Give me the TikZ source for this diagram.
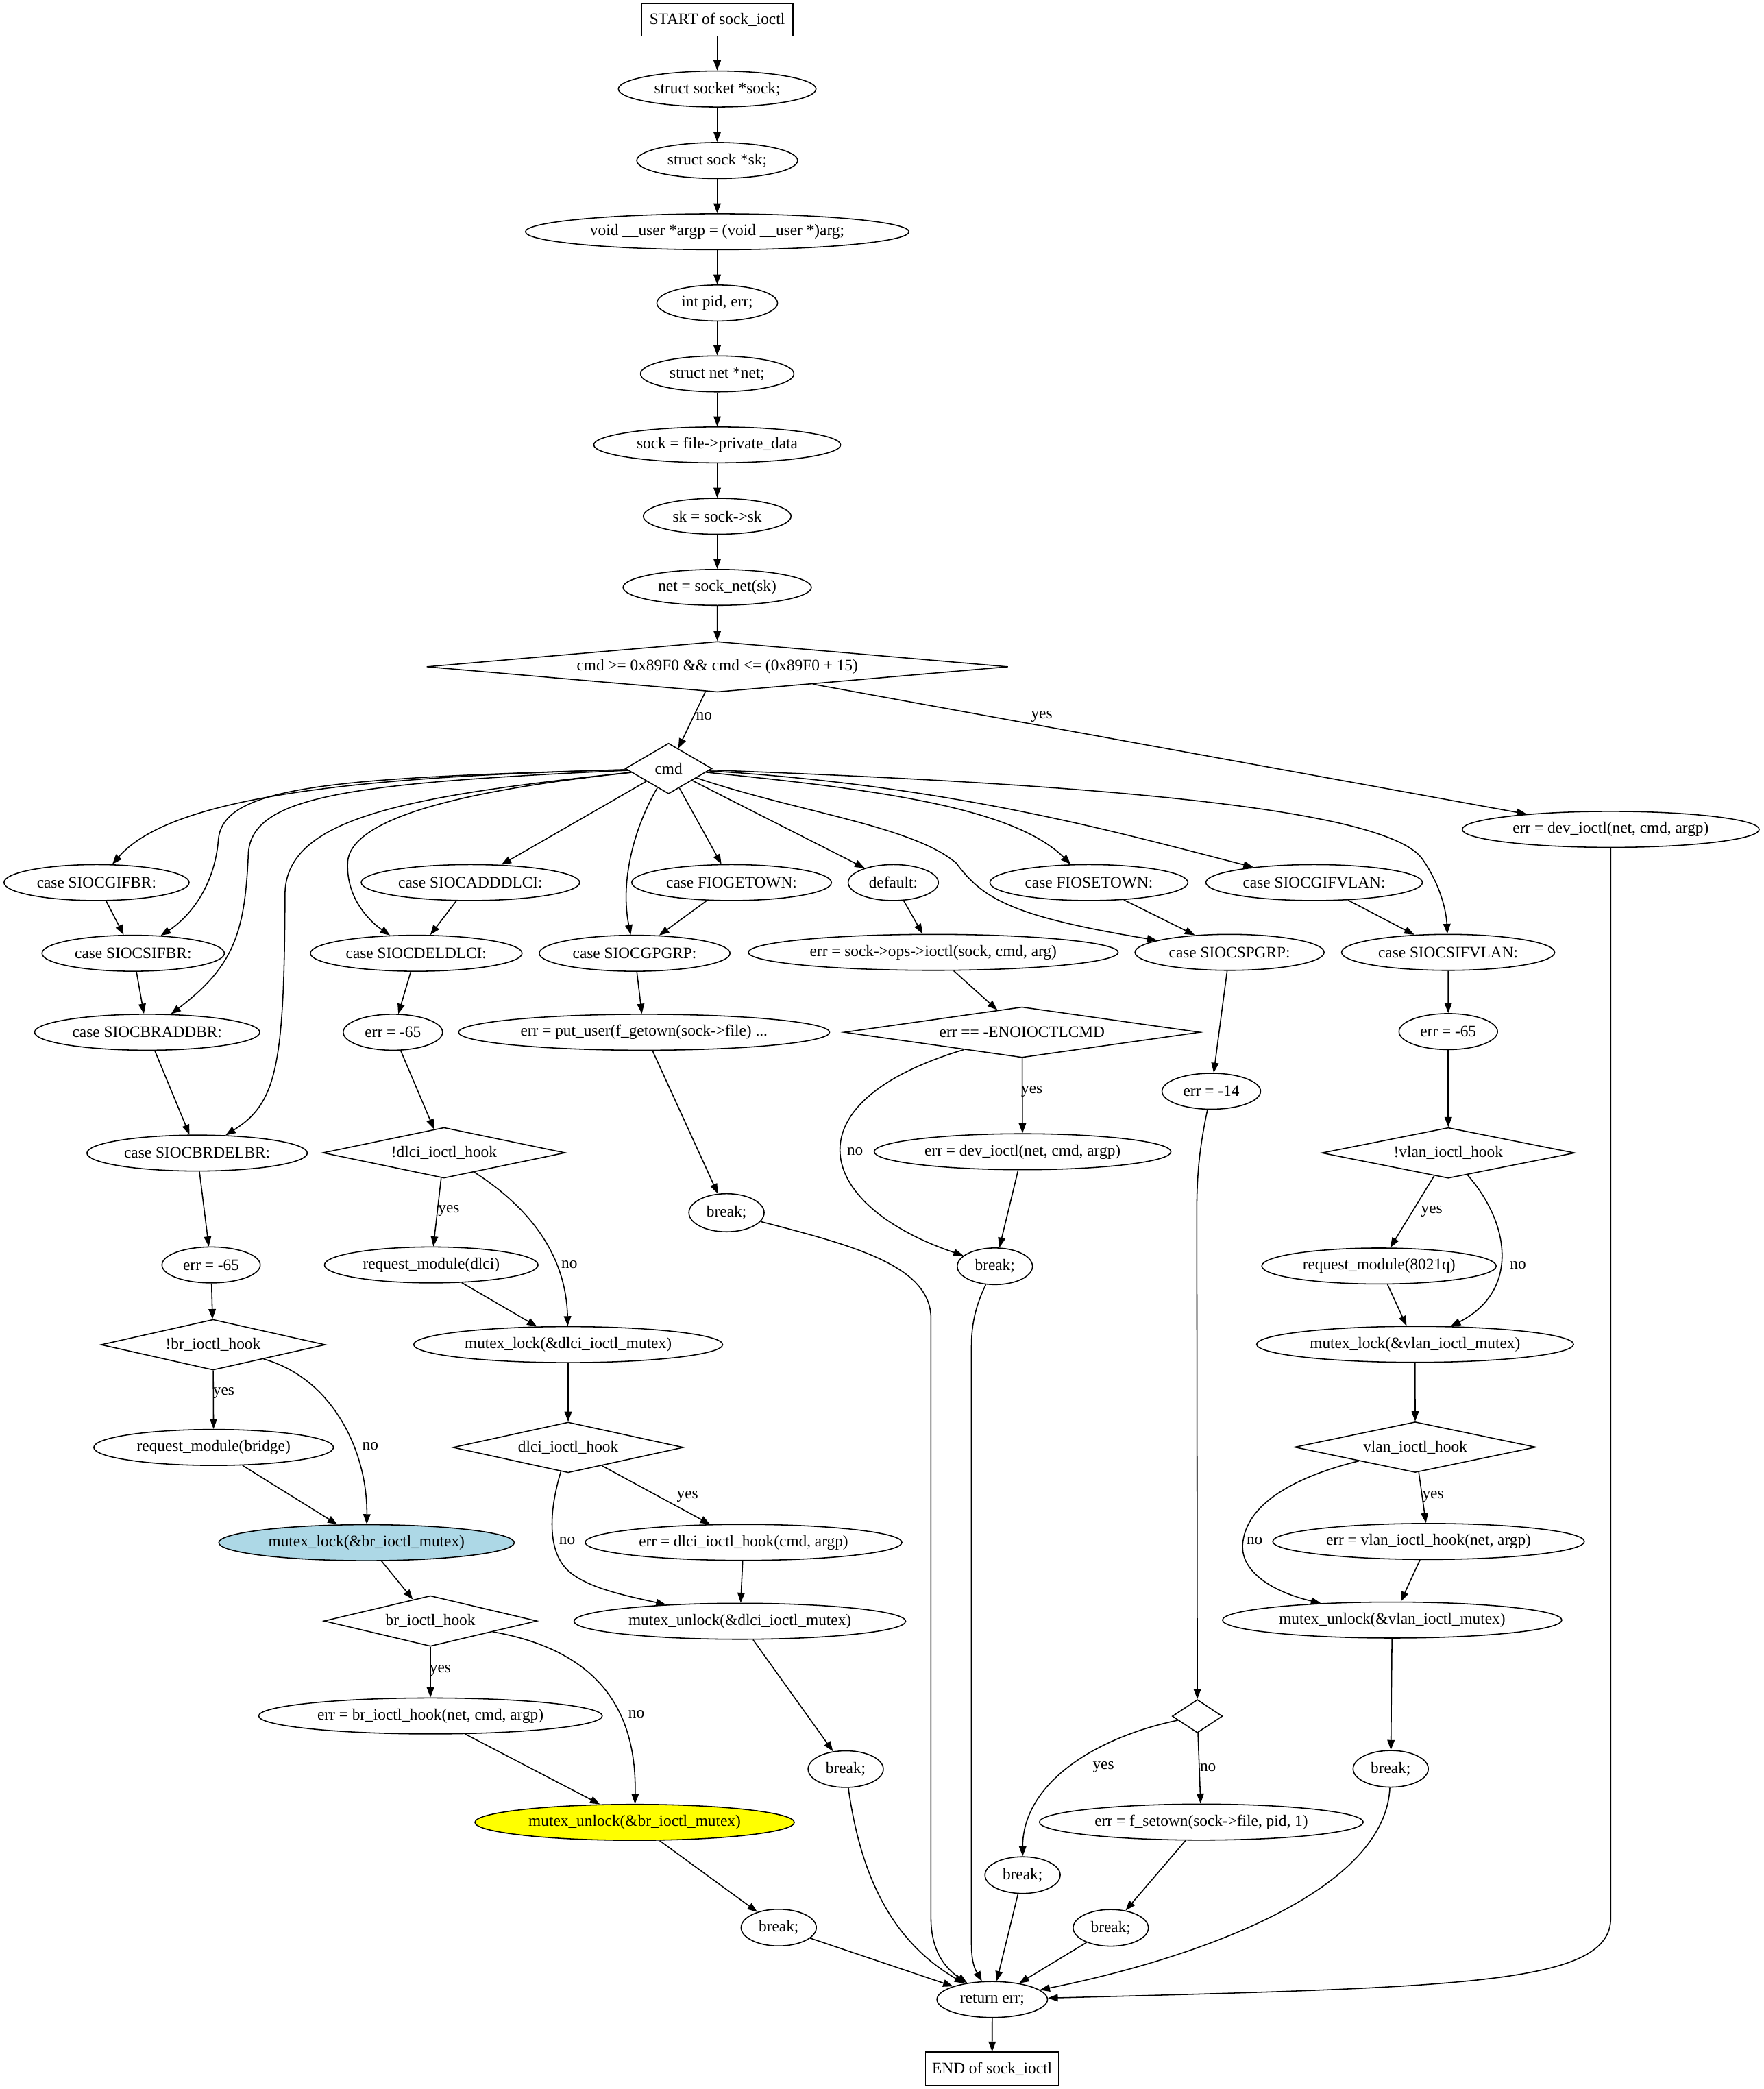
\documentclass[tikz,border=0pt]{standalone}
\usepackage{fontspec}
\setmainfont{Liberation Serif}
\usetikzlibrary{shapes.geometric,arrows.meta}
\newcommand\gvfont{\fontsize{12}{14}\selectfont}
\definecolor{gvblue}{HTML}{ADD8E6}
\definecolor{gvyellow}{HTML}{FFFF00}
\begin{document}
\begin{tikzpicture}[x=1pt,y=-1pt,
  every node/.style={font=\gvfont},
  base/.style={draw, line width=0.8pt, inner sep=0pt},
  ell/.style={base, ellipse, minimum height=27pt},
  brk/.style={ell, minimum width=56.5pt, minimum height=27.5pt},
  dia/.style={base, diamond, minimum height=38pt},
  bx/.style={base, rectangle},
  lbl/.style={inner sep=0pt},
  arr/.style={line width=0.8pt, -{Triangle[length=7.5pt,width=5.5pt]}},
]
\fill[white] (0,0) rectangle (1324,1568.4);
\useasboundingbox (0,0) rectangle (1324,1568.4);

% top chain
\node[bx, minimum width=113.6pt, minimum height=24.2pt] (start) at (538.5,15) {START of sock\_ioctl};
\node[ell, minimum width=148.4pt] (n1) at (538.5,66.8) {struct socket *sock;};
\node[ell, minimum width=120.8pt] (n2) at (538.5,120.5) {struct sock *sk;};
\node[ell, minimum width=288pt] (n3) at (538.5,174) {void \_\_user *argp = (void \_\_user *)arg;};
\node[ell, minimum width=90.6pt] (n4) at (538.5,227.5) {int pid, err;};
\node[ell, minimum width=115.2pt] (n5) at (538.5,280.7) {struct net *net;};
\node[ell, minimum width=185.4pt] (n6) at (538.5,334) {sock = file->private\_data};
\node[ell, minimum width=110.9pt] (n7) at (538.5,387.6) {sk = sock->sk};
\node[ell, minimum width=141.4pt] (n8) at (538.5,441) {net = sock\_net(sk)};
\node[dia, minimum width=436.8pt, aspect=11.49] (d1) at (538.6,500.6) {cmd >= 0x89F0 \&\& cmd <= (0x89F0 + 15)};
\node[dia, minimum width=65pt, aspect=1.71] (cmd) at (502,577) {cmd};
\node[ell, minimum width=223pt] (devA) at (1209.4,622.7) {err = dev\_ioctl(net, cmd, argp)};

% row 1
\node[ell, minimum width=139pt] (cGIFBR) at (72.5,662.6) {case SIOCGIFBR:};
\node[ell, minimum width=164pt] (cADDDLCI) at (353.2,662.6) {case SIOCADDDLCI:};
\node[ell, minimum width=150pt] (cFIOGET) at (549.3,662.6) {case FIOGETOWN:};
\node[ell, minimum width=67.7pt] (cdefault) at (670.7,662.6) {default:};
\node[ell, minimum width=148.7pt] (cFIOSET) at (817.6,662.6) {case FIOSETOWN:};
\node[ell, minimum width=162.6pt] (cGIFVLAN) at (986.7,662.6) {case SIOCGIFVLAN:};

% row 2
\node[ell, minimum width=137pt] (cSIFBR) at (100,715.7) {case SIOCSIFBR:};
\node[ell, minimum width=159pt] (cDELDLCI) at (312.5,715.7) {case SIOCDELDLCI:};
\node[ell, minimum width=143.3pt] (cGPGRP) at (476.5,715.7) {case SIOCGPGRP:};
\node[ell, minimum width=277.7pt] (sockops) at (700.7,715) {err = sock->ops->ioctl(sock, cmd, arg)};
\node[ell, minimum width=142pt] (cSPGRP) at (923.2,715) {case SIOCSPGRP:};
\node[ell, minimum width=160pt] (cSIFVLAN) at (1087.3,715) {case SIOCSIFVLAN:};

% row 3
\node[ell, minimum width=169pt] (cBRADDBR) at (110.5,775) {case SIOCBRADDBR:};
\node[ell, minimum width=74.6pt] (errD65) at (295,775) {err = -65};
\node[ell, minimum width=278.6pt] (putuser) at (483.6,775) {err = put\_user(f\_getown(sock->file) ...};
\node[dia, minimum width=267.3pt, aspect=7.03] (dENO) at (767.4,775) {err == -ENOIOCTLCMD};
\node[ell, minimum width=74pt] (errV65) at (1087.4,774.5) {err = -65};
\node[ell, minimum width=74pt] (errM14) at (909.5,819.3) {err = -14};

% row 4
\node[ell, minimum width=165.5pt] (cBRDELBR) at (148,865.7) {case SIOCBRDELBR:};
\node[dia, minimum width=182pt, aspect=4.79] (dDLCI) at (333.4,865.5) {!dlci\_ioctl\_hook};
\node[ell, minimum width=222.8pt] (devB) at (767.8,864.7) {err = dev\_ioctl(net, cmd, argp)};
\node[dia, minimum width=190pt, aspect=5.0] (dVLAN) at (1087.4,865.6) {!vlan\_ioctl\_hook};
\node[brk, minimum height=28.6pt] (brk1) at (545.5,910.5) {break;};

% row 5
\node[ell, minimum width=73.8pt] (errB65) at (158.5,949.7) {err = -65};
\node[ell, minimum width=160.4pt] (reqDLCI) at (323.8,949.7) {request\_module(dlci)};
\node[brk] (brk2) at (747,950.7) {break;};
\node[ell, minimum width=176pt] (req8021q) at (1035.4,950.5) {request\_module(8021q)};

% row 6
\node[dia, minimum width=168.5pt, aspect=4.43] (dBR) at (160,1009.6) {!br\_ioctl\_hook};
\node[ell, minimum width=232pt] (mlDLCI) at (426.6,1009.5) {mutex\_lock(\&dlci\_ioctl\_mutex)};
\node[ell, minimum width=237.9pt] (mlVLAN) at (1062.5,1009.3) {mutex\_lock(\&vlan\_ioctl\_mutex)};

% row 7
\node[ell, minimum width=180pt] (reqBR) at (160.4,1086.7) {request\_module(bridge)};
\node[dia, minimum width=173.2pt, aspect=4.49] (dDLCIh) at (426.6,1086.7) {dlci\_ioctl\_hook};
\node[dia, minimum width=181.3pt, aspect=4.77] (dVLANh) at (1062.6,1086.5) {vlan\_ioctl\_hook};

% row 8
\node[ell, minimum width=221.9pt, fill=gvblue] (mlBR) at (275.2,1158.2) {mutex\_lock(\&br\_ioctl\_mutex)};
\node[ell, minimum width=237.8pt] (errDLCI) at (558.3,1158) {err = dlci\_ioctl\_hook(cmd, argp)};
\node[ell, minimum width=234pt] (errVLAN) at (1072.6,1157.3) {err = vlan\_ioctl\_hook(net, argp)};

% row 9
\node[dia, minimum width=160pt, aspect=4.21] (dBRh) at (323.2,1217) {br\_ioctl\_hook};
\node[ell, minimum width=249pt] (muDLCI) at (555.5,1217.2) {mutex\_unlock(\&dlci\_ioctl\_mutex)};
\node[ell, minimum width=254.8pt] (muVLAN) at (1045.3,1216.3) {mutex\_unlock(\&vlan\_ioctl\_mutex)};

% lower part
\node[base, diamond, minimum width=37.7pt, minimum height=25pt, aspect=1.5] (dSmall) at (899,1288.5) {};
\node[ell, minimum width=258pt] (errBR) at (323.2,1288.3) {err = br\_ioctl\_hook(net, cmd, argp)};
\node[brk] (brk3) at (635,1328.2) {break;};
\node[brk] (brk4) at (1044.2,1328) {break;};
\node[ell, minimum width=239.8pt, fill=gvyellow] (muBR) at (476.5,1368.2) {mutex\_unlock(\&br\_ioctl\_mutex)};
\node[ell, minimum width=243.2pt] (fsetown) at (902,1368) {err = f\_setown(sock->file, pid, 1)};
\node[brk] (brk5) at (767.8,1407.8) {break;};
\node[brk] (brk6) at (584.7,1447.2) {break;};
\node[brk] (brk7) at (834,1447.4) {break;};
\node[ell, minimum width=83pt] (ret) at (745,1501.2) {return err;};
\node[bx, minimum width=100pt, minimum height=25pt] (endbox) at (744.9,1553.2) {END of sock\_ioctl};

% edge labels
\node[lbl] (l01) at (528.6,537.8) {no};
\node[lbl] (l02) at (782.2,537.8) {yes};
\node[lbl] (l03) at (642,864.4) {no};
\node[lbl] (l04) at (774.8,819.2) {yes};
\node[lbl] (l05) at (337,909.2) {yes};
\node[lbl] (l06) at (427.5,949.4) {no};
\node[lbl] (l07) at (1075,909.5) {yes};
\node[lbl] (l08) at (1139.8,949.9) {no};
\node[lbl] (l09) at (168,1046) {yes};
\node[lbl] (l10) at (278,1085.6) {no};
\node[lbl] (l11) at (516.2,1123.7) {yes};
\node[lbl] (l12) at (425.8,1156.8) {no};
\node[lbl] (l13) at (1076,1123.5) {yes};
\node[lbl] (l14) at (942,1156.7) {no};
\node[lbl] (l15) at (330.6,1254.4) {yes};
\node[lbl] (l16) at (477.8,1287) {no};
\node[lbl] (l17) at (828.5,1327) {yes};
\node[lbl] (l18) at (907,1327) {no};

% chain edges
\draw[arr] (start) -- (n1);
\draw[arr] (n1) -- (n2);
\draw[arr] (n2) -- (n3);
\draw[arr] (n3) -- (n4);
\draw[arr] (n4) -- (n5);
\draw[arr] (n5) -- (n6);
\draw[arr] (n6) -- (n7);
\draw[arr] (n7) -- (n8);
\draw[arr] (n8) -- (d1);
\draw[arr] (d1) -- (cmd);
\draw[arr] (d1) -- (devA);

% cmd fan-out
\draw[arr] (cmd) .. controls (280,583) and (130,596) .. (cGIFBR);
\draw[arr] (cmd) .. controls (250,584) and (168,590) .. (164,630) .. controls (161,668) and (140,690) .. (cSIFBR);
\draw[arr] (cmd) .. controls (260,588) and (190,598) .. (186.5,640) .. controls (184,700) and (176,725) .. (cBRADDBR);
\draw[arr] (cmd) .. controls (300,598) and (216,615) .. (214,670) .. controls (213.5,800) and (208,828) .. (cBRDELBR);
\draw[arr] (cmd) .. controls (360,592) and (262,612) .. (261,648) .. controls (260,675) and (278,692) .. (cDELDLCI);
\draw[arr] (cmd) -- (cADDDLCI);
\draw[arr] (cmd) .. controls (474,625) and (466,665) .. (cGPGRP);
\draw[arr] (cmd) -- (cFIOGET);
\draw[arr] (cmd) -- (cdefault);
\draw[arr] (cmd) .. controls (600,610) and (685,620) .. (718,648) .. controls (738,675) and (760,688) .. (cSPGRP);
\draw[arr] (cmd) .. controls (650,592) and (760,605) .. (cFIOSET);
\draw[arr] (cmd) .. controls (720,590) and (850,628) .. (cGIFVLAN);
\draw[arr] (cmd) .. controls (800,588) and (1040,605) .. (1068,645) .. controls (1082,665) and (1086,685) .. (cSIFVLAN);

% bridge column
\draw[arr] (cGIFBR) -- (cSIFBR);
\draw[arr] (cSIFBR) -- (cBRADDBR);
\draw[arr] (cBRADDBR) -- (cBRDELBR);
\draw[arr] (cBRDELBR) -- (errB65);
\draw[arr] (errB65) -- (dBR);
\draw[arr] (dBR) -- (reqBR);
\draw[arr] (dBR) .. controls (250,1035) and (276,1090) .. (mlBR);
\draw[arr] (reqBR) -- (mlBR);
\draw[arr] (mlBR) -- (dBRh);
\draw[arr] (dBRh) -- (errBR);
\draw[arr] (dBRh) .. controls (455,1240) and (478,1290) .. (muBR);
\draw[arr] (errBR) -- (muBR);
\draw[arr] (muBR) -- (brk6);
\draw[arr] (brk6) -- (ret);

% dlci column
\draw[arr] (cADDDLCI) -- (cDELDLCI);
\draw[arr] (cDELDLCI) -- (errD65);
\draw[arr] (errD65) -- (dDLCI);
\draw[arr] (dDLCI) -- (reqDLCI);
\draw[arr] (dDLCI) .. controls (395,905) and (425,940) .. (mlDLCI);
\draw[arr] (reqDLCI) -- (mlDLCI);
\draw[arr] (mlDLCI) -- (dDLCIh);
\draw[arr] (dDLCIh) -- (errDLCI);
\draw[arr] (dDLCIh) .. controls (412,1135) and (410,1168) .. (430,1182) .. controls (445,1193) and (470,1198) .. (muDLCI);
\draw[arr] (errDLCI) -- (muDLCI);
\draw[arr] (muDLCI) -- (brk3);
\draw[arr] (brk3) .. controls (645,1400) and (665,1455) .. (ret);

% getown column
\draw[arr] (cFIOGET) -- (cGPGRP);
\draw[arr] (cGPGRP) -- (putuser);
\draw[arr] (putuser) -- (brk1);
\draw[arr] (brk1) .. controls (640,935) and (699,950) .. (699,990) -- (699,1440) .. controls (699,1465) and (710,1478) .. (ret);

% default column
\draw[arr] (cdefault) -- (sockops);
\draw[arr] (sockops) -- (dENO);
\draw[arr] (dENO) -- (devB);
\draw[arr] (dENO) .. controls (590,828) and (612,905) .. (brk2);
\draw[arr] (devB) -- (brk2);
\draw[arr] (brk2) .. controls (735,975) and (729.4,990) .. (729.4,1010) -- (729.4,1460) .. controls (729.4,1475) and (733,1480) .. (ret);

% setown column
\draw[arr] (cFIOSET) -- (cSPGRP);
\draw[arr] (cSPGRP) -- (errM14);
\draw[arr] (errM14) .. controls (901,860) and (898.6,880) .. (898.6,910) -- (dSmall);
\draw[arr] (dSmall) .. controls (820,1305) and (768,1340) .. (brk5);
\draw[arr] (dSmall) -- (fsetown);
\draw[arr] (fsetown) -- (brk7);
\draw[arr] (brk5) -- (ret);
\draw[arr] (brk7) -- (ret);

% vlan column
\draw[arr] (cGIFVLAN) -- (cSIFVLAN);
\draw[arr] (cSIFVLAN) -- (errV65);
\draw[arr] (errV65) -- (dVLAN);
\draw[arr] (dVLAN) -- (req8021q);
\draw[arr] (dVLAN) .. controls (1135,920) and (1140,970) .. (mlVLAN);
\draw[arr] (req8021q) -- (mlVLAN);
\draw[arr] (mlVLAN) -- (dVLANh);
\draw[arr] (dVLANh) -- (errVLAN);
\draw[arr] (dVLANh) .. controls (975,1108) and (935,1128) .. (933,1160) .. controls (932,1180) and (955,1195) .. (muVLAN);
\draw[arr] (errVLAN) -- (muVLAN);
\draw[arr] (muVLAN) -- (brk4);
\draw[arr] (brk4) .. controls (1040,1420) and (900,1470) .. (ret);

% dev_ioctl to return
\draw[arr] (devA) -- (1209.4,1440) .. controls (1209.4,1490) and (1100,1492) .. (ret);

\draw[arr] (ret) -- (endbox);
\end{tikzpicture}
\end{document}
